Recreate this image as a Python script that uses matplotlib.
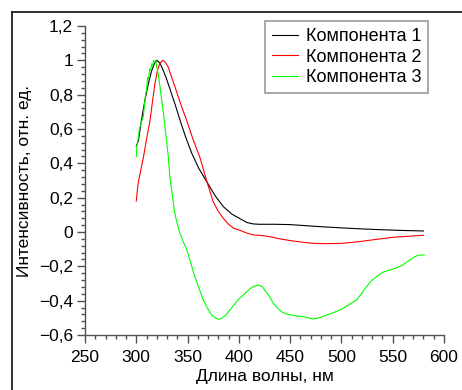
import matplotlib
matplotlib.use("Agg")
import matplotlib.pyplot as plt
from matplotlib.lines import Line2D
from matplotlib.ticker import MultipleLocator, FuncFormatter

plt.rcParams['font.family'] = ['Liberation Sans', 'DejaVu Sans']

# Component 1 (black)
wl1 = [300, 302, 305, 308.5, 312, 315, 318, 320, 323, 326, 329, 333, 338, 343,
       348, 354, 361, 369, 377, 385, 393, 401, 408, 414, 420, 435, 450, 465, 480,
       500, 520, 540, 560, 580]
comp1 = [0.50, 0.53, 0.65, 0.77, 0.87, 0.94, 0.985, 1.0, 0.985, 0.945, 0.90, 0.83,
         0.74, 0.645, 0.555, 0.46, 0.37, 0.29, 0.21, 0.147, 0.105, 0.078, 0.055,
         0.047, 0.045, 0.045, 0.043, 0.037, 0.031, 0.024, 0.018, 0.013, 0.009, 0.006]

# Component 2 (red)
wl2 = [300, 301, 302, 304, 306.8, 310, 313.4, 316, 318.2, 321, 323, 325.7, 328, 331,
       334, 337.7, 343, 349, 355, 362, 369, 375, 380, 385, 390, 395, 401, 407, 414,
       420, 430, 440, 450, 460, 472, 486, 500, 515, 530, 550, 565, 580]
comp2 = [0.18, 0.24, 0.29, 0.35, 0.43, 0.54, 0.65, 0.77, 0.866, 0.95, 0.982, 1.0,
         0.99, 0.963, 0.91, 0.846, 0.75, 0.652, 0.545, 0.435, 0.29, 0.176, 0.12,
         0.078, 0.045, 0.022, 0.01, -0.005, -0.017, -0.019, -0.027, -0.04, -0.05,
         -0.058, -0.066, -0.068, -0.066, -0.058, -0.046, -0.031, -0.025, -0.019]

# Component 3 (green)
wl3 = [300, 300.5, 302, 303, 305, 306.8, 308, 309, 310, 311, 312, 313, 314, 315,
       316, 317, 318, 319, 320, 321.4, 323, 324.7, 326.5, 328, 329.5, 331.2, 332.8,
       335, 337, 339, 342.6, 346, 349, 352.3, 356, 360, 365.3, 369, 373.5, 377, 380,
       384, 388, 391, 394.5, 398, 401, 404, 407.6, 411, 415, 419, 423, 426, 430,
       433.5, 438, 443, 447, 452, 457, 463, 468, 472.5, 478, 485.5, 492, 501.7, 508,
       514.8, 520, 524.5, 529, 534.3, 540, 547.3, 553, 560, 566, 571.6, 575, 580.7]
comp3 = [0.44, 0.50, 0.55, 0.60, 0.64, 0.67, 0.74, 0.80, 0.83, 0.90, 0.89, 0.95,
         0.94, 0.98, 0.97, 1.0, 0.99, 1.0, 0.96, 0.92, 0.85, 0.77, 0.69, 0.61, 0.53,
         0.44, 0.32, 0.22, 0.13, 0.07, -0.01, -0.06, -0.10, -0.163, -0.24, -0.31,
         -0.396, -0.44, -0.484, -0.50, -0.509, -0.50, -0.48, -0.455, -0.43, -0.405,
         -0.385, -0.37, -0.348, -0.33, -0.315, -0.309, -0.32, -0.345, -0.377,
         -0.415, -0.445, -0.47, -0.478, -0.485, -0.49, -0.494, -0.50, -0.507, -0.50,
         -0.484, -0.47, -0.445, -0.42, -0.396, -0.355, -0.318, -0.285, -0.26,
         -0.235, -0.221, -0.21, -0.192, -0.165, -0.144, -0.135, -0.134]

labels = ['Компонента 1', 'Компонента 2', 'Компонента 3']
colors = ['#000000', '#ff0000', '#00ff00']

W, H = 462, 390
fig = plt.figure(figsize=(W / 100, H / 100), dpi=100)
ax = fig.add_axes([85 / W, 1 - 335 / H, (444 - 85) / W, (335 - 26) / H])

for wl, vals, lab, col in zip([wl1, wl2, wl3], [comp1, comp2, comp3], labels, colors):
    ax.plot(wl, vals, color=col, lw=0.8, label=lab)

ax.set_xlim(250, 600)
ax.set_ylim(-0.6, 1.2)
ax.xaxis.set_major_locator(MultipleLocator(50))
ax.xaxis.set_minor_locator(MultipleLocator(10))
ax.yaxis.set_major_locator(MultipleLocator(0.2))
ax.yaxis.set_minor_locator(MultipleLocator(0.04))


def fmt(v, pos):
    if abs(v - round(v)) < 1e-9:
        s = str(int(round(v)))
    else:
        s = f"{v:.1f}".replace('.', ',')
    return s.replace('-', '\u2212')


ax.yaxis.set_major_formatter(FuncFormatter(fmt))
ax.xaxis.set_major_formatter(FuncFormatter(fmt))

spine_col = '#505050'
for side in ['top', 'right']:
    ax.spines[side].set_visible(False)
for side in ['left', 'bottom']:
    ax.spines[side].set_color(spine_col)
    ax.spines[side].set_linewidth(1.0)
ax.tick_params(which='major', direction='out', length=5.5, width=1.0, color=spine_col,
               labelsize=12.5, pad=3)
ax.tick_params(which='minor', direction='out', length=3, width=1.0, color=spine_col)
ax.tick_params(axis='x', which='major', pad=5)

ax.set_xlabel('Длина волны, нм', fontsize=12.5, labelpad=3)
ax.set_ylabel('Интенсивность, отн. ед.', fontsize=12.5, labelpad=5)

leg = ax.legend(loc='upper left', bbox_to_anchor=(265 / W, 1 - 20.7 / H),
                bbox_transform=fig.transFigure, borderaxespad=0, fontsize=13,
                frameon=True, fancybox=False, edgecolor='#808080',
                handlelength=1.4, handletextpad=0.45, labelspacing=0.2,
                borderpad=0.4)
leg.get_frame().set_linewidth(1.2)

# outer frame lines
fig.add_artist(Line2D([12.3 / W, 12.3 / W], [0, 1 - 12 / H], color='#202020', lw=1.3,
                      transform=fig.transFigure))
fig.add_artist(Line2D([12.3 / W, 1], [1 - 12 / H, 1 - 12 / H], color='#202020', lw=1.3,
                      transform=fig.transFigure))

fig.savefig('out.png', dpi=100)
